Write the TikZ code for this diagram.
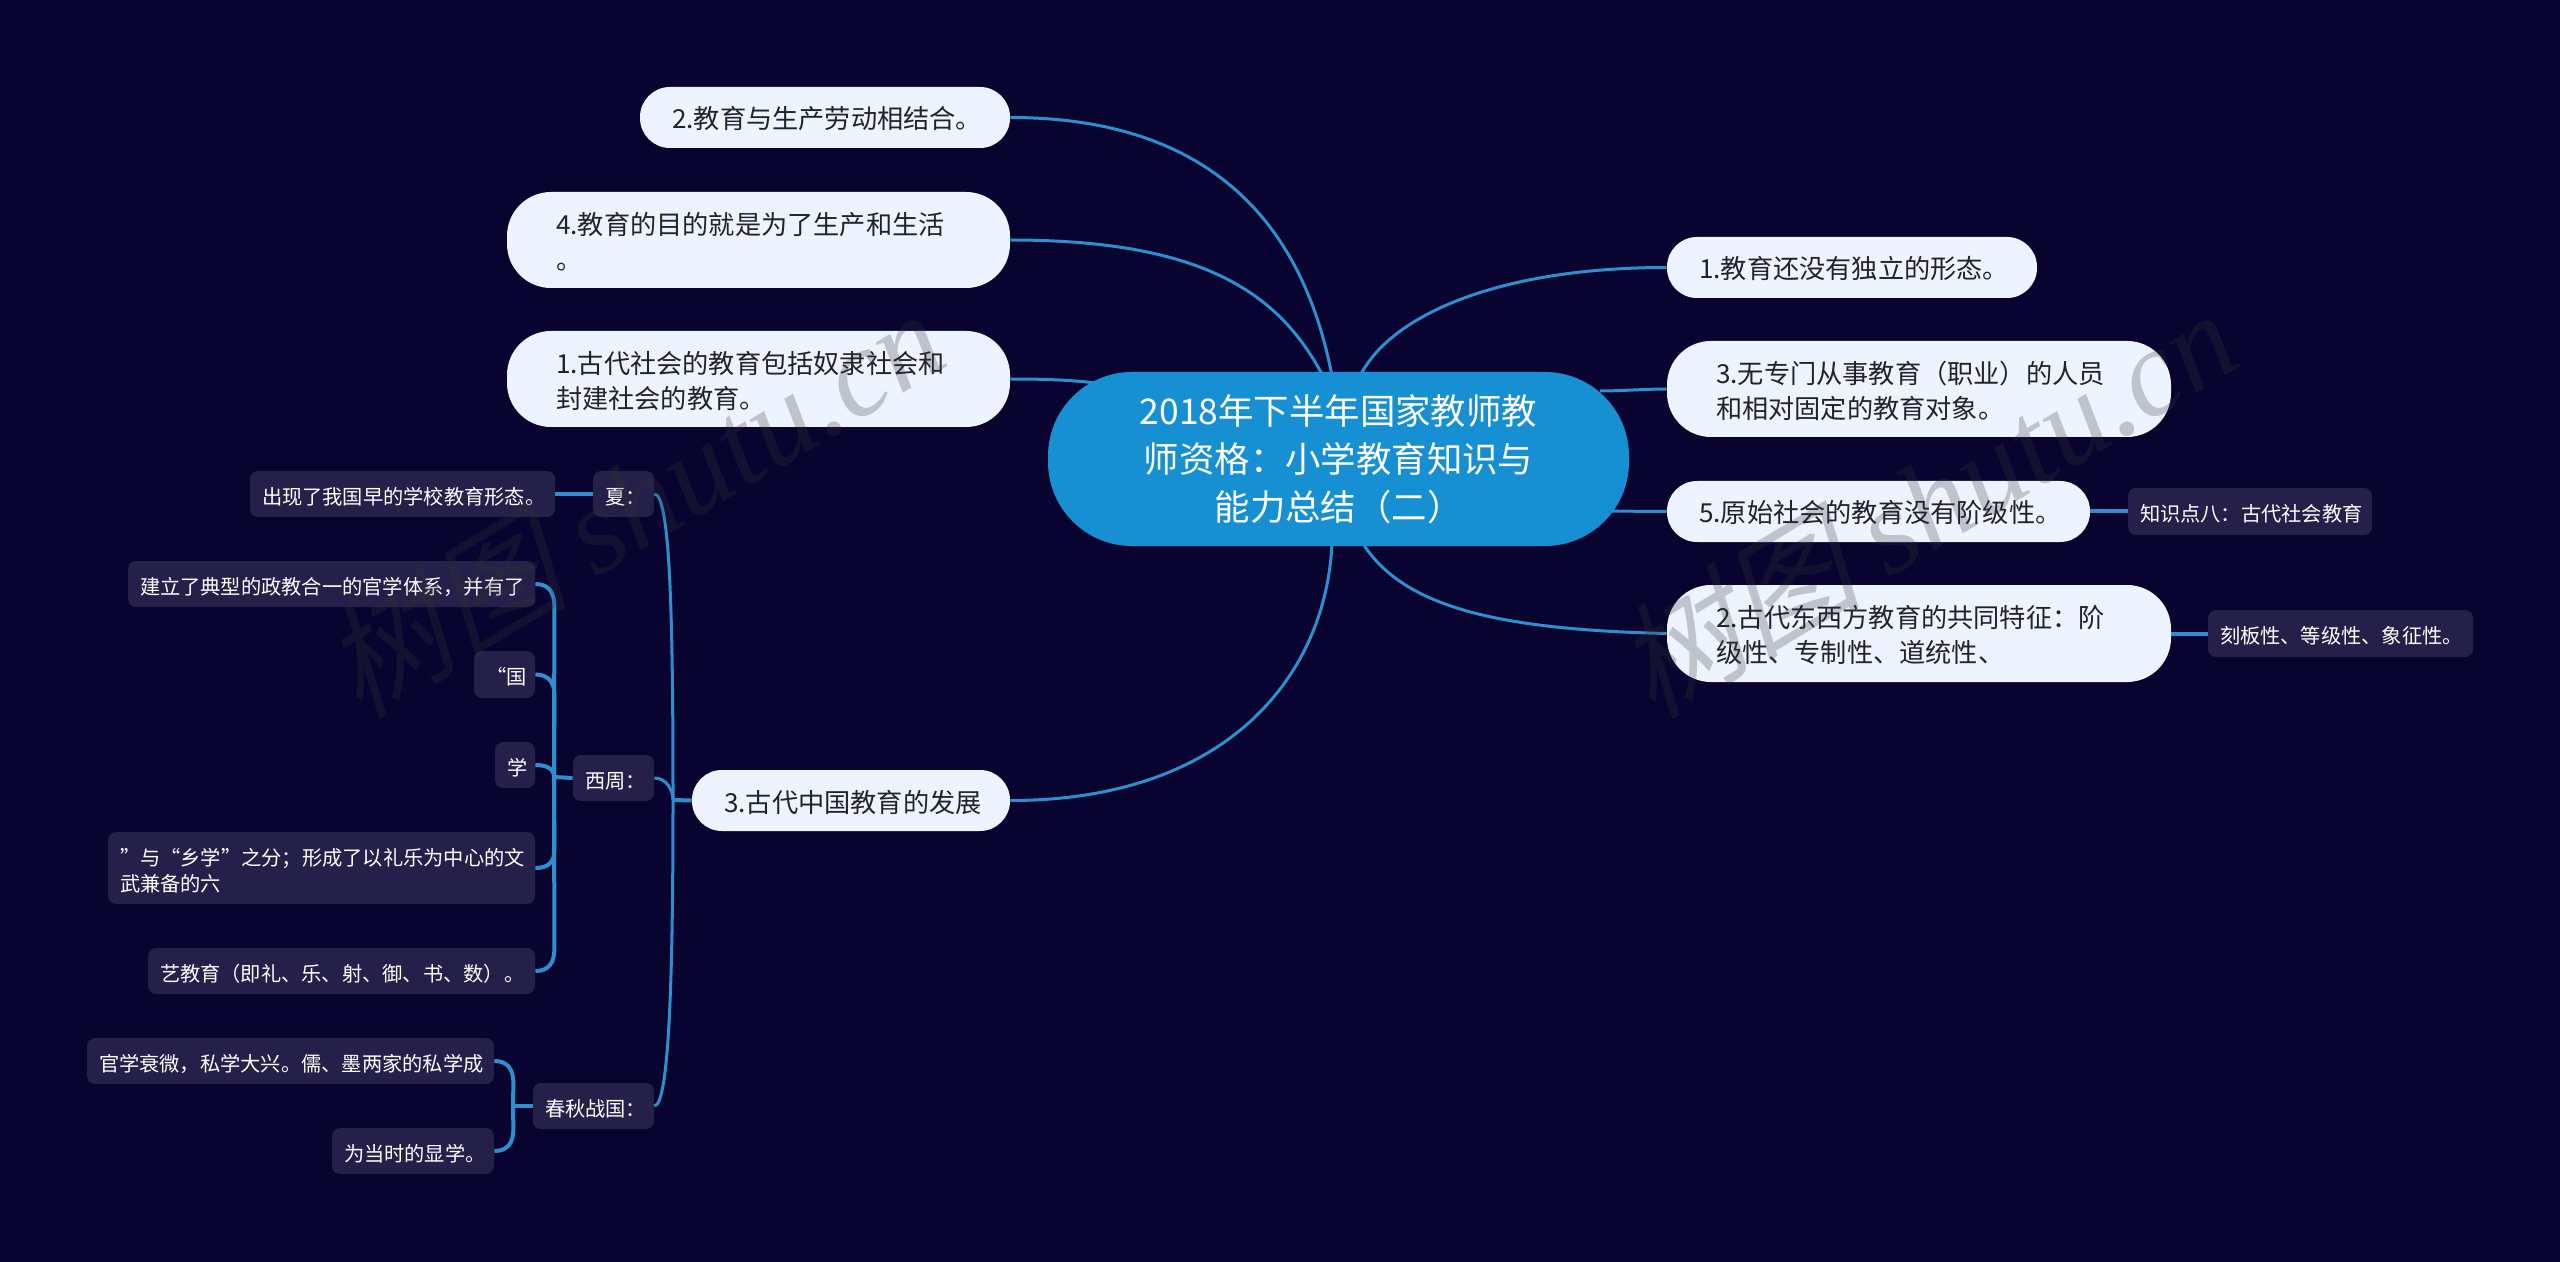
\documentclass[tikz,border=0pt]{standalone}
\usepackage{fontspec}
\setmainfont{Noto Sans CJK SC}
\newfontfamily\wmcjk[FakeSlant=0.25]{Noto Sans CJK SC}
\newfontfamily\wmlat[Ligatures=Common]{Liberation Serif}
\definecolor{bgc}{HTML}{08042F}
\definecolor{palec}{HTML}{EEF4FF}
\definecolor{darkbox}{HTML}{252049}
\definecolor{centerc}{HTML}{1790D3}
\definecolor{linec}{HTML}{2D8FD0}
\definecolor{inkc}{HTML}{22222A}
\definecolor{wmc}{HTML}{343434}
\tikzset{
  pale/.style={fill=palec,text=inkc,rounded corners=15pt,font=\fontsize{13.1}{17.5}\selectfont,execute at begin node={\leavevmode\rule{0pt}{12.6pt}}},
  palebig/.style={pale,rounded corners=22pt},
  small/.style={fill=darkbox,text=white,rounded corners=4pt,font=\fontsize{10.12}{13.3}\selectfont,execute at begin node={\leavevmode\rule{0pt}{11.2pt}}},
  centre/.style={fill=centerc,text=white,rounded corners=42pt,font=\fontsize{17.7}{24}\selectfont,align=center},
  link/.style={draw=linec,line width=1.5pt},
  sublink/.style={draw=linec,line width=2pt},
  wm/.style={text=wmc,opacity=0.25,rotate=31,font=\fontsize{62}{62}\selectfont},
}
% name, style, x1, y1, x2, y2, pad, text
\newcommand\nd[8]{%
  \pgfmathsetmacro\cxv{(#3+#5)/2}%
  \pgfmathsetmacro\cyv{(#4+#6)/2}%
  \pgfmathsetmacro\wv{(#5-#3)*0.5}%
  \pgfmathsetmacro\hv{(#6-#4)*0.5}%
  \pgfmathsetmacro\tv{\wv-#7}%
  \node[#2,align=left,text width=\tv pt,minimum width=\wv pt,minimum height=\hv pt,inner xsep=#7*0.5pt,inner ysep=0pt] (#1) at (\cxv,\cyv) {#8};%
}
\begin{document}
\begin{tikzpicture}[x=0.5pt,y=-0.5pt]
\useasboundingbox (0,0) rectangle (2560,1262);
\fill[bgc] (0,0) rectangle (2560,1262);

% coordinates on the centre topic
\coordinate (ca) at (1332,376);
\coordinate (cb) at (1323,376);
\coordinate (cc) at (1150,392);
\coordinate (cd) at (1360,376);
\coordinate (ce) at (1600,391);
\coordinate (cf) at (1600,511);
\coordinate (cg) at (1362,542);
\coordinate (ch) at (1332,542);
% trunk junctions
\coordinate (jm) at (673,800);
\coordinate (jw) at (554,777);
\coordinate (jc) at (513,1106);

% main nodes
\nd{na}{pale}{640}{87}{1010}{148}{32}{2.教育与生产劳动相结合。}
\nd{nb}{palebig}{507}{192}{1010}{288}{49}{4.教育的目的就是为了生产和生活\\。}
\nd{nc}{palebig}{507}{331}{1010}{427}{49}{1.古代社会的教育包括奴隶社会和\\封建社会的教育。}
\nd{nd}{pale}{692}{770}{1010}{831}{32}{3.古代中国教育的发展}
\nd{re}{pale}{1667}{237}{2037}{298}{32}{1.教育还没有独立的形态。}
\nd{rf}{palebig}{1667}{341}{2171}{437}{49}{3.无专门从事教育（职业）的人员\\和相对固定的教育对象。}
\nd{rg}{pale}{1667}{481}{2090}{542}{32}{5.原始社会的教育没有阶级性。}
\nd{rh}{palebig}{1667}{585}{2171}{682}{49}{2.古代东西方教育的共同特征：阶\\级性、专制性、道统性、}
\nd{ki}{small}{2128}{488}{2372}{535}{12}{知识点八：古代社会教育}
\nd{kj}{small}{2208}{610}{2473}{657}{12}{刻板性、等级性、象征性。}
% left detail
\nd{xa}{small}{593}{471}{654}{517}{12}{夏：}
\nd{xb}{small}{250}{471}{555}{517}{12}{出现了我国早的学校教育形态。}
\nd{xz}{small}{573}{755}{654}{801}{12}{西周：}
\nd{za}{small}{128}{561}{535}{607}{12}{建立了典型的政教合一的官学体系，并有了}
\nd{zb}{small}{474}{651}{535}{698}{12}{“国}
\nd{zc}{small}{495}{742}{535}{788}{12}{学}
\nd{zd}{small}{108}{832}{535}{904}{12}{”与“乡学”之分；形成了以礼乐为中心的文\\武兼备的六}
\nd{ze}{small}{148}{948}{535}{994}{12}{艺教育（即礼、乐、射、御、书、数）。}
\nd{cq}{small}{533}{1083}{654}{1129}{12}{春秋战国：}
\nd{ca1}{small}{87}{1038}{494}{1084}{12}{官学衰微，私学大兴。儒、墨两家的私学成}
\nd{ca2}{small}{332}{1128}{494}{1174}{12}{为当时的显学。}

% connectors
\draw[link] (na.east) .. controls +(220,0) and +(-25,-130) .. (ca);
\draw[link] (nb.east) .. controls +(190,0) and +(-45,-85) .. (cb);
\draw[link] (nc.east) .. controls +(60,0) and +(-50,-10) .. (cc);
\draw[link] (nd.east) .. controls +(220,0) and +(-5,130) .. (ch);
\draw[link] (re.west) .. controls +(-170,0) and +(30,-60) .. (cd);
\draw[link] (rf.west) .. controls +(-20,0) and +(20,0) .. (ce);
\draw[link] (rg.west) -- (cf);
\draw[link] (rh.west) .. controls +(-170,-4) and +(40,65) .. (cg);

\node[centre,minimum width=290.5pt,minimum height=87pt,inner sep=0pt] (ctr) at (1338.5,459) {2018年下半年国家教师教\\师资格：小学教育知识与\\能力总结（二）};

\draw[sublink] (rg.east) -- (ki.west);
\draw[sublink] (rh.east) -- (kj.west);
\draw[sublink] (xb.east) -- (xa.west);

\draw[sublink] (nd.west) -- (jm);
\draw[link] (xa.east) .. controls +(16,0) and +(0,-180) .. (jm);
\draw[link] (xz.east) .. controls +(12,0) and +(0,-10) .. (jm);
\draw[link] (cq.east) .. controls +(16,0) and +(0,150) .. (jm);

\draw[sublink] (xz.west) -- (jw);
\draw[sublink] (za.east) .. controls +(13,0) and +(0,-14) .. ++(19,22) -- (jw);
\draw[sublink] (zb.east) .. controls +(13,0) and +(0,-12) .. ++(19,20) -- (jw);
\draw[sublink] (zc.east) .. controls +(12,0) and +(0,-8) .. (jw);
\draw[sublink] (zd.east) .. controls +(13,0) and +(0,12) .. ++(19,-18) -- (jw);
\draw[sublink] (ze.east) .. controls +(13,0) and +(0,14) .. ++(19,-22) -- (jw);

\draw[sublink] (cq.west) -- (jc);
\draw[sublink] (ca1.east) .. controls +(13,0) and +(0,-14) .. ++(19,22) -- (jc);
\draw[sublink] (ca2.east) .. controls +(13,0) and +(0,14) .. ++(19,-22) -- (jc);

% watermark
\node[wm] (wa) at (632,502) {{\wmcjk 树图} {\wmlat\itshape shutu.cn}};
\node[wm] (wb) at (1925,502) {{\wmcjk 树图} {\wmlat\itshape shutu.cn}};
\end{tikzpicture}
\end{document}
